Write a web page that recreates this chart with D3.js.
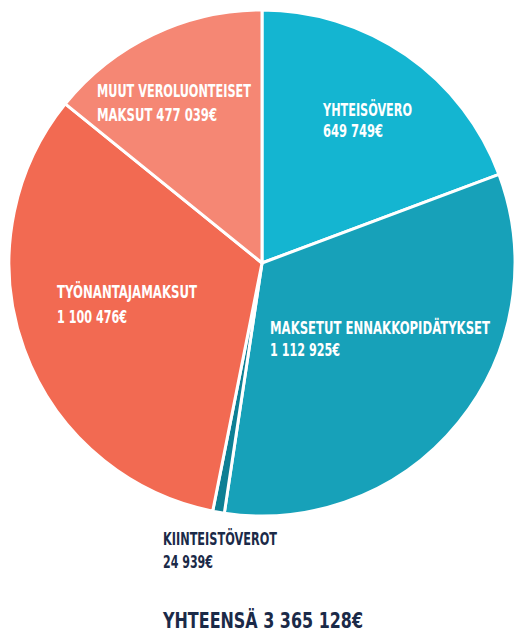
<!DOCTYPE html>
<html><head><meta charset="utf-8">
<script src="https://cdn.jsdelivr.net/npm/d3@7"></script>
<style>
html,body{margin:0;padding:0;background:#fff;}
text{font-family:"Liberation Sans Narrow","DejaVu Sans Condensed","Roboto",sans-serif;font-weight:bold;}
</style></head>
<body>
<svg id="c" width="514" height="632"></svg>
<script>
const categories = ["YHTEISÖVERO","MAKSETUT ENNAKKOPIDÄTYKSET","KIINTEISTÖVEROT","TYÖNANTAJAMAKSUT","MUUT VEROLUONTEISET MAKSUT"];
const values = [649749, 1112925, 24939, 1100476, 477039];
const valueLabels = ["649 749€","1 112 925€","24 939€","1 100 476€","477 039€"];
const colors = ["#14b5d1","#17a1b9","#0e7f94","#f26a52","#f58774"];
const totalLabel = "YHTEENSÄ 3 365 128€";

// label layout (line texts, positions, target widths)
const labelLayout = [
  {lines:[["YHTEISÖVERO",89],["649 749€",60]], x:323, y:[116,137], fill:"#fff"},
  {lines:[["MAKSETUT ENNAKKOPIDÄTYKSET",220],["1 112 925€",70]], x:270, y:[334,356], fill:"#fff"},
  {lines:[["KIINTEISTÖVEROT",114],["24 939€",50]], x:163, y:[545,568], fill:"#1b2a48"},
  {lines:[["TYÖNANTAJAMAKSUT",140],["1 100 476€",70]], x:57, y:[298,323], fill:"#fff"},
  {lines:[["MUUT VEROLUONTEISET",154],["MAKSUT 477 039€",120]], x:97, y:[97,121], fill:"#fff"}
];

const svg = d3.select("#c");
const cx = 262, cy = 263, R = 253;
const pie = d3.pie().sort(null).value(d => d.v);
const arcs = pie(values.map((v,i)=>({v, i})));
const arc = d3.arc().innerRadius(0).outerRadius(R);
const g = svg.append("g").attr("transform",`translate(${cx},${cy})`);
g.selectAll("path").data(arcs).join("path")
  .attr("d", arc)
  .attr("fill", d => colors[d.data.i])
  .attr("stroke","#fff").attr("stroke-width",3).attr("stroke-linejoin","round");

labelLayout.forEach(L => {
  L.lines.forEach((ln, j) => {
    svg.append("text").attr("x", L.x).attr("y", L.y[j])
      .attr("font-size", 18).attr("fill", L.fill)
      .attr("textLength", ln[1]).attr("lengthAdjust","spacingAndGlyphs")
      .text(ln[0]);
  });
});

svg.append("text").attr("x",163).attr("y",628).attr("font-size",22)
  .attr("fill","#1b2a48").attr("textLength",200).attr("lengthAdjust","spacingAndGlyphs")
  .text(totalLabel);
</script>
</body></html>
